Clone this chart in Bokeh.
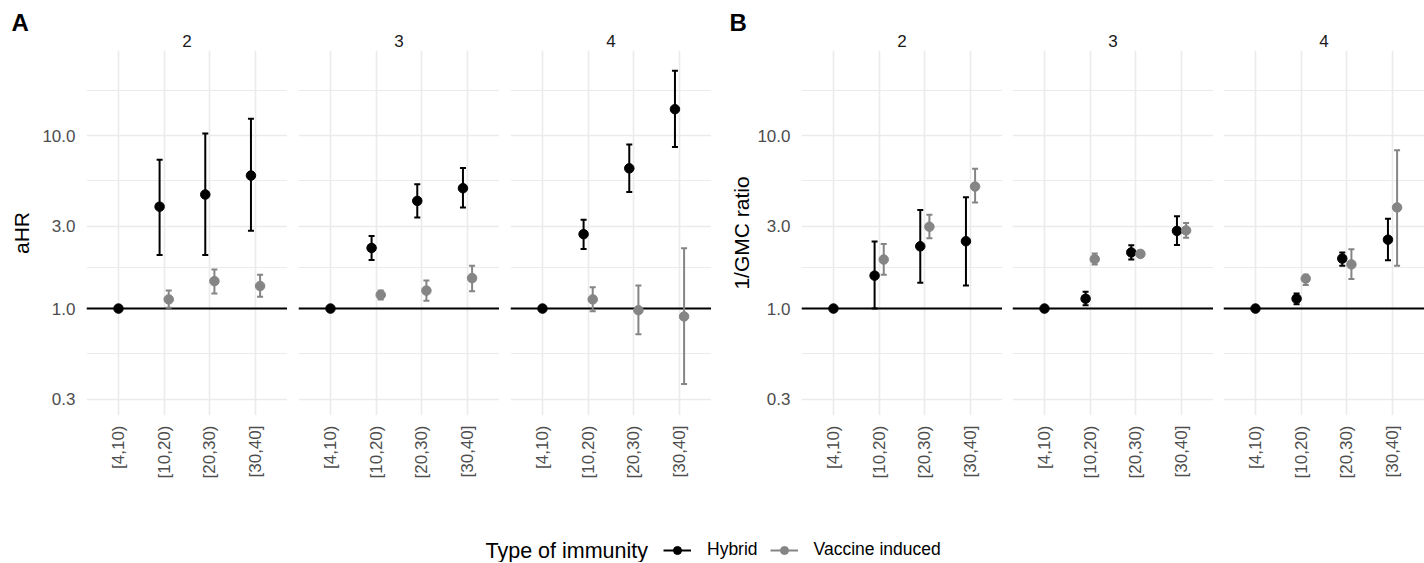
import math
from bokeh.plotting import figure
from bokeh.models import (FactorRange, Range1d, FixedTicker, PrintfTickFormatter, Span,
                          Whisker, TeeHead, ColumnDataSource, Label, Legend, LegendItem, Title)
from bokeh.transform import dodge
from bokeh.layouts import row, column
from bokeh.embed import file_html
from bokeh.resources import INLINE

# ---------------- data ----------------
categories = ["[4,10)", "[10,20)", "[20,30)", "[30,40]"]
facets = ["2", "3", "4"]
y_ticks = [0.3, 1.0, 3.0, 10.0]
y_minor = [0.5477, 1.732, 5.477, 18.26]
reference_value = 1.0
groups = ["Hybrid", "Vaccine induced"]

# Panel A: aHR (per facet 2,3,4; categories [10,20), [20,30), [30,40])
ahr_hybrid_est = [[3.88, 4.56, 5.87], [2.24, 4.19, 4.96], [2.69, 6.46, 14.2]]
ahr_hybrid_lo = [[2.04, 2.04, 2.82], [1.91, 3.36, 3.84], [2.21, 4.72, 8.57]]
ahr_hybrid_hi = [[7.25, 10.26, 12.5], [2.63, 5.23, 6.49], [3.26, 8.88, 23.7]]
ahr_vaccine_est = [[1.13, 1.44, 1.35], [1.20, 1.27, 1.50], [1.13, 0.978, 0.90]]
ahr_vaccine_lo = [[1.01, 1.22, 1.17], [1.13, 1.11, 1.26], [0.965, 0.71, 0.366]]
ahr_vaccine_hi = [[1.27, 1.68, 1.57], [1.27, 1.455, 1.77], [1.33, 1.36, 2.23]]

# Panel B: 1/GMC ratio
gmc_hybrid_est = [[1.55, 2.29, 2.45], [1.14, 2.11, 2.81], [1.14, 1.945, 2.50]]
gmc_hybrid_lo = [[1.0, 1.41, 1.36], [1.045, 1.92, 2.33], [1.06, 1.77, 1.90]]
gmc_hybrid_hi = [[2.44, 3.71, 4.40], [1.25, 2.32, 3.42], [1.22, 2.11, 3.30]]
gmc_vaccine_est = [[1.92, 2.97, 5.07], [1.93, 2.07, 2.83], [1.49, 1.80, 3.84]]
gmc_vaccine_lo = [[1.57, 2.55, 4.10], [1.80, 1.99, 2.57], [1.37, 1.48, 1.77]]
gmc_vaccine_hi = [[2.36, 3.48, 6.43], [2.08, 2.16, 3.12], [1.57, 2.20, 8.22]]

# ---------------- style ----------------
FONT = "Liberation Sans"
C_HYB = "#000000"
C_VAC = "#858585"
GRID = "#EBEBEB"
FRAME_W = 201
FRAME_TOP = 50
FRAME_H = 365
FIG_H = 490
DODGE = 0.1


def make_facet(i, h_est, h_lo, h_hi, v_est, v_lo, v_hi, left_border,
               ylabel=None, ylabel_standoff=5, tag=None):
    p = figure(width=left_border + FRAME_W, height=FIG_H, title=None,
               x_range=FactorRange(factors=categories, range_padding=0.2,
                                   range_padding_units="absolute"),
               y_range=Range1d(0.241, 31), y_axis_type="log",
               output_backend="svg", toolbar_location=None,
               min_border_left=left_border, min_border_right=0,
               min_border_top=FRAME_TOP, min_border_bottom=FIG_H - FRAME_TOP - FRAME_H,
               outline_line_color=None, background_fill_color="white",
               border_fill_color="white")
    p.add_layout(Title(text=facets[i], align="center", text_font=FONT,
                       text_font_size="17px", text_font_style="normal",
                       text_color="#1A1A1A", standoff=8), "above")
    if tag is not None:
        txt, off = tag
        p.add_layout(Title(text=txt, align="left", offset=off, vertical_align="top",
                           text_font=FONT, text_font_size="24px", text_font_style="bold",
                           text_color="black", standoff=-18), "above")

    ticker = FixedTicker(ticks=y_ticks, minor_ticks=y_minor)
    p.yaxis.ticker = ticker
    p.yaxis.formatter = PrintfTickFormatter(format="%.1f")
    p.ygrid.ticker = ticker

    for ax in (p.xaxis[0], p.yaxis[0]):
        ax.axis_line_color = None
        ax.major_tick_line_color = None
        ax.minor_tick_line_color = None
        ax.major_tick_out = 0
        ax.major_tick_in = 0
        ax.minor_tick_out = 0
        ax.minor_tick_in = 0
        ax.major_label_text_font = FONT
        ax.major_label_text_font_size = "17px"
        ax.major_label_text_color = "#4D4D4D"
        ax.major_label_standoff = 11
    p.xaxis.major_label_standoff = 10
    p.xaxis.major_label_orientation = math.pi / 2
    if ylabel is None:
        p.yaxis.visible = False
    else:
        p.yaxis.axis_label = ylabel
        p.yaxis.axis_label_text_font = FONT
        p.yaxis.axis_label_text_font_size = "21px"
        p.yaxis.axis_label_text_font_style = "normal"
        p.yaxis.axis_label_text_color = "black"
        p.yaxis.axis_label_standoff = ylabel_standoff

    p.xgrid.grid_line_color = GRID
    p.xgrid.grid_line_width = 1.6
    p.ygrid.grid_line_color = GRID
    p.ygrid.grid_line_width = 1.6
    p.ygrid.minor_grid_line_color = GRID
    p.ygrid.minor_grid_line_width = 1.1

    p.add_layout(Span(location=reference_value, dimension="width", line_color="black",
                      line_width=2, level="underlay"))

    for est, lo, hi, col, off in ((h_est, h_lo, h_hi, C_HYB, -DODGE),
                                  (v_est, v_lo, v_hi, C_VAC, DODGE)):
        src = ColumnDataSource(dict(cat=categories[1:], est=est, lo=lo, hi=hi))
        base = dodge("cat", off, range=p.x_range)
        w = Whisker(base=base, upper="hi", lower="lo", source=src, dimension="height",
                    line_color=col, line_width=2, level="underlay",
                    upper_head=TeeHead(size=6, line_color=col, line_width=2),
                    lower_head=TeeHead(size=6, line_color=col, line_width=2))
        p.add_layout(w)
        p.scatter(x=base, y="est", source=src, size=9.5, color=col)

    ref_src = ColumnDataSource(dict(cat=[categories[0]], est=[reference_value]))
    p.scatter(x="cat", y="est", source=ref_src, size=9.5, color=C_HYB)
    return p


figs = []
for i in range(3):
    figs.append(make_facet(i, ahr_hybrid_est[i], ahr_hybrid_lo[i], ahr_hybrid_hi[i],
                           ahr_vaccine_est[i], ahr_vaccine_lo[i], ahr_vaccine_hi[i],
                           86 if i == 0 else 11,
                           ylabel="aHR" if i == 0 else None, ylabel_standoff=6,
                           tag=("A", -75) if i == 0 else None))
b_borders = [90, 10, 10]
for i in range(3):
    figs.append(make_facet(i, gmc_hybrid_est[i], gmc_hybrid_lo[i], gmc_hybrid_hi[i],
                           gmc_vaccine_est[i], gmc_vaccine_lo[i], gmc_vaccine_hi[i],
                           b_borders[i],
                           ylabel="1/GMC ratio" if i == 0 else None, ylabel_standoff=1,
                           tag=("B", -72) if i == 0 else None))

# ---------------- legend ----------------
LW, LH = 1424, 562 - FIG_H
lf = figure(width=LW, height=LH, x_range=Range1d(0, LW), y_range=Range1d(0, LH),
            output_backend="svg", toolbar_location=None, min_border=0,
            x_axis_location=None, y_axis_location=None, outline_line_color=None,
            border_fill_color="white", background_fill_color="white")
lf.grid.visible = False
items = []
for g, col in zip(groups, (C_HYB, C_VAC)):
    rl = lf.line(x=[float("nan")], y=[float("nan")], line_color=col, line_width=2)
    rp = lf.scatter(x=[float("nan")], y=[float("nan")], size=9, color=col)
    items.append(LegendItem(label=g, renderers=[rl, rp]))
leg = Legend(items=items, location=(663, 2), orientation="horizontal",
             glyph_width=28, glyph_height=20, label_height=20, label_standoff=16,
             spacing=12, padding=0, margin=0, border_line_color=None,
             background_fill_alpha=0, label_text_font=FONT,
             label_text_font_size="17.5px", label_text_color="black")
lf.add_layout(leg)
lf.add_layout(Label(x=485, y=12, text="Type of immunity", text_font=FONT,
                    text_font_size="21.5px", text_color="black", text_baseline="middle"))

layout = column(row(*figs), lf)
open("out.html", "w").write(file_html(layout, INLINE))
